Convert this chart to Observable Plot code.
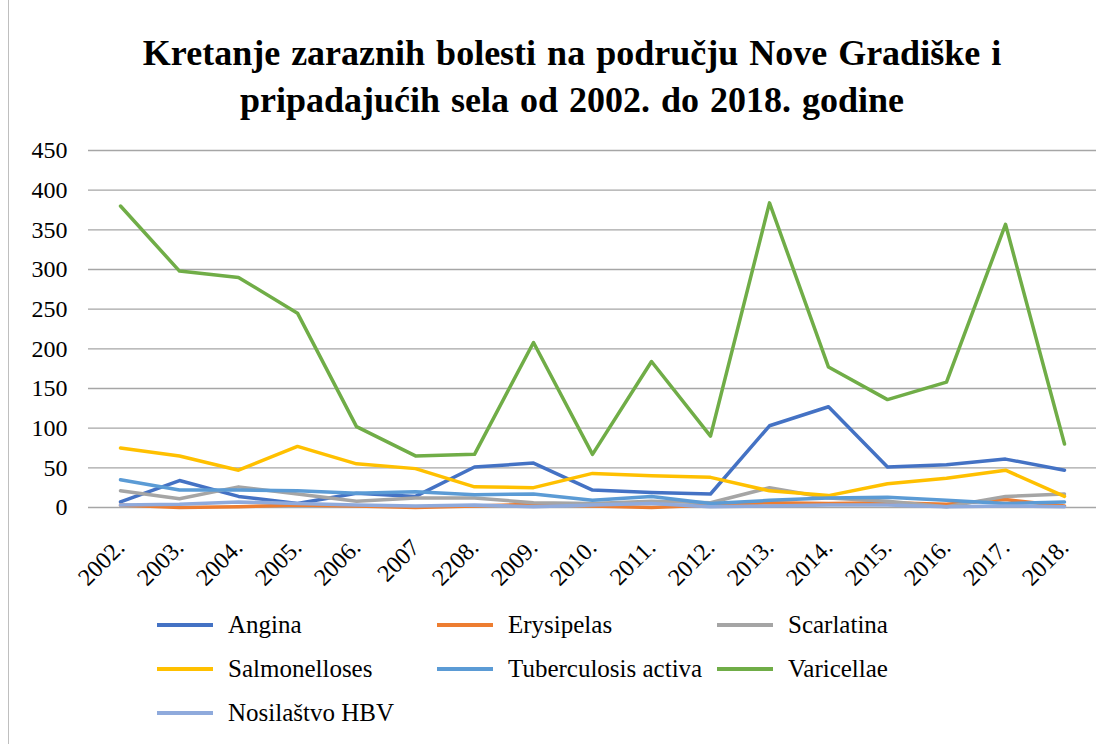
<!DOCTYPE html>
<html><head><meta charset="utf-8">
<script src="https://cdn.jsdelivr.net/npm/d3@7"></script>
<script src="https://cdn.jsdelivr.net/npm/@observablehq/plot@0.6"></script>
<style>
body{margin:0;background:#fff;}
#wrap{position:relative;width:1116px;height:744px;overflow:hidden;font-family:"Liberation Serif","Times New Roman",serif;background:#fff;}
#frame{position:absolute;left:8px;top:-2px;width:1120px;height:760px;border:1px solid #bfbfbf;}
#title{position:absolute;left:14px;width:1116px;top:30px;text-align:center;font-weight:bold;font-size:36px;line-height:47px;word-spacing:2px;}
#chart{position:absolute;left:0;top:130px;}
.leg{position:absolute;font-size:25px;display:flex;align-items:center;height:30px;}
.sw{width:56px;height:3.5px;margin-right:15px;}
</style>
</head><body>
<div id="wrap">
<div id="frame"></div>
<div id="title">Kretanje zaraznih bolesti na području Nove Gradiške i<br>pripadajućih sela od 2002. do 2018. godine</div>
<div id="chart"></div>
</div>
<script>
const years = ["2002.","2003.","2004.","2005.","2006.","2007","2208.","2009.","2010.","2011.","2012.","2013.","2014.","2015.","2016.","2017.","2018."];
const seriesNames = ["Angina","Erysipelas","Scarlatina","Salmonelloses","Tuberculosis activa","Varicellae","Nosilaštvo HBV"];
const seriesColors = ["#4472C4","#ED7D31","#A5A5A5","#FFC000","#5B9BD5","#70AD47","#8FAADC"];
const angina       = [7, 34, 14, 5, 18, 14, 51, 56, 22, 19, 17, 103, 127, 51, 54, 61, 47];
const erysipelas   = [3, 0, 1, 3, 2, 0, 2, 4, 2, 0, 3, 6, 5, 6, 4, 10, 2];
const scarlatina   = [21, 11, 26, 17, 8, 12, 12, 6, 5, 8, 6, 25, 12, 8, 1, 14, 17];
const salmonelloses= [75, 65, 47, 77, 55, 49, 26, 25, 43, 40, 38, 21, 15, 30, 37, 47, 14];
const tuberculosis = [35, 22, 22, 21, 18, 20, 16, 17, 9, 14, 5, 9, 12, 13, 9, 5, 7];
const varicellae   = [380, 298, 290, 245, 102, 65, 67, 208, 67, 184, 90, 384, 177, 136, 158, 357, 80];
const hbv          = [3, 4, 7, 5, 3, 2, 3, 1, 3, 5, 1, 2, 3, 3, 1, 2, 1];
const yTicks = [0, 50, 100, 150, 200, 250, 300, 350, 400, 450];

const seriesValues = [angina, erysipelas, scarlatina, salmonelloses, tuberculosis, varicellae, hbv];
const data = [];
seriesNames.forEach((s, i) => years.forEach((y, j) => data.push({series: s, year: y, value: seriesValues[i][j]})));

const chart = Plot.plot({
  width: 1116, height: 467,
  marginLeft: 88, marginRight: 20, marginTop: 20, marginBottom: 90,
  style: {fontFamily: "'Liberation Serif', serif", fontSize: "24px", background: "transparent", overflow: "visible"},
  x: {type: "point", domain: years, padding: 0.5, label: null},
  y: {domain: [0, 450], label: null},
  color: {domain: seriesNames, range: seriesColors},
  marks: [
    Plot.gridY(yTicks, {stroke: "#a6a6a6", strokeOpacity: 1, strokeWidth: 1.3}),
    Plot.axisY(yTicks, {tickSize: 0, tickPadding: 21, fontSize: 24, label: null}),
    Plot.axisX({tickSize: 0, tickRotate: -45, tickPadding: 36, fontSize: 24, label: null}),
    Plot.line(data, {x: "year", y: "value", z: "series", stroke: "series", strokeWidth: 3.5, strokeLinejoin: "round"})
  ]
});
document.getElementById("chart").appendChild(chart);

const wrap = document.getElementById("wrap");
const legPos = [[157,610],[437,610],[717,610],[157,654],[437,654],[717,654],[157,698]];
seriesNames.forEach((s, i) => {
  const d = document.createElement("div");
  d.className = "leg";
  d.style.left = legPos[i][0] + "px";
  d.style.top = legPos[i][1] + "px";
  const sw = document.createElement("div");
  sw.className = "sw";
  sw.style.background = seriesColors[i];
  const t = document.createElement("span");
  t.textContent = s;
  d.appendChild(sw); d.appendChild(t);
  wrap.appendChild(d);
});
</script>
</body></html>
